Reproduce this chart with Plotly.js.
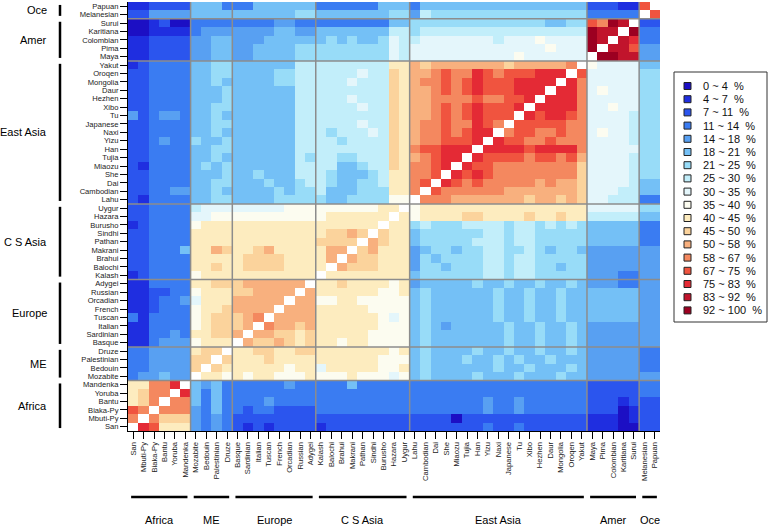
<!DOCTYPE html>
<html>
<head>
<meta charset="utf-8">
<script src="https://cdn.plot.ly/plotly-3.0.1.min.js"></script>
<style>html,body{margin:0;padding:0;background:#fff;}#chart{width:771px;height:529px;}</style>
</head>
<body>
<div id="chart"></div>
<script>
// ---------- categories ----------
const populations = ["San","Mbuti-Py","Biaka-Py","Bantu","Yoruba","Mandenka",
  "Mozabite","Bedouin","Palestinian","Druze",
  "Basque","Sardinian","Italian","Tuscan","French","Orcadian","Russian","Adygei",
  "Kalash","Balochi","Brahui","Makrani","Pathan","Sindhi","Burusho","Hazara","Uygur",
  "Lahu","Cambodian","Dai","She","Miaozu","Tujia","Han","Yizu","Naxi","Japanese","Tu","Xibo","Hezhen","Daur","Mongolia","Oroqen","Yakut",
  "Maya","Pima","Colombian","Karitiana","Surui",
  "Melanesian","Papuan"];
const groupNames = ["Africa","ME","Europe","C S Asia","East Asia","Amer","Oce"];
const groupSizes = [6,4,8,9,17,5,2];

// ---------- legend bins ----------
const binEdges = [0,4,7,11,14,18,21,25,30,35,40,45,50,58,67,75,83,92,100];
const binLabels = ["0 ~ 4","4 ~ 7","7 ~ 11","11 ~ 14","14 ~ 18","18 ~ 21","21 ~ 25","25 ~ 30","30 ~ 35",
  "35 ~ 40","40 ~ 45","45 ~ 50","50 ~ 58","58 ~ 67","67 ~ 75","75 ~ 83","83 ~ 92","92 ~ 100"];
const binColors = ["#1c0fc4","#1f2ee0","#2b55ee","#3a7cf2","#58a0f2","#74c0f6","#98dcf8","#c2eefa","#e4f6fb",
  "#fcfcf0","#fdecbf","#fbd39c","#f8b07e","#f4885f","#f0543f","#e42a35","#c1142c","#9c0021"];

// ---------- values (% shared, one row per population; columns in the same order) ----------
const n = null;
//                  Africa               | ME           | Europe                   | C S Asia                     | East Asia                                          | Amer          | Oce
const San        = [n,79,71,42,42,42,  16,12,16,12,  9,5,9,5,9,9,9,9,  5,9,9,9,9,9,9,9,9,  9,9,9,9,9,9,9,12,9,9,12,9,9,9,9,9,9,  5,5,5,2,2,  9,9];
const Mbuti_Py   = [62,n,62,47,47,47,  16,12,16,12,  9,9,9,9,9,9,9,9,  9,9,9,9,9,9,9,9,9,  9,9,9,9,2,9,9,9,9,9,9,9,9,9,9,9,9,  5,5,5,2,5,  9,9];
const Biaka_Py   = [71,62,n,62,62,62,  16,12,19,12,  12,9,12,12,9,9,9,9,  12,12,12,12,12,12,12,12,12,  12,12,12,12,12,12,12,16,12,12,16,12,12,12,12,12,12,  9,9,9,2,5,  9,9];
const Bantu      = [42,47,62,n,62,62,  19,12,19,12,  12,12,12,16,12,12,12,12,  12,12,12,12,12,12,12,12,12,  12,12,12,12,12,12,12,16,12,12,16,12,12,12,12,12,12,  9,9,9,5,9,  9,9];
const Yoruba     = [42,47,62,62,n,79,  19,12,19,12,  12,12,12,12,12,12,12,12,  12,12,12,12,12,12,12,12,12,  12,12,12,12,12,12,12,12,12,12,12,12,12,12,12,12,12,  9,9,9,9,9,  12,12];
const Mandenka   = [42,42,62,62,79,n,  19,16,19,12,  12,12,12,12,12,16,12,12,  12,12,12,19,12,12,12,12,12,  12,12,12,12,12,12,12,12,12,12,12,12,12,12,12,12,12,  9,9,9,9,9,  12,12];
const Mozabite   = [12,16,16,19,16,16,  n,42,42,37,  42,37,42,42,37,37,37,42,  37,37,37,42,37,37,37,32,37,  19,23,19,19,19,19,23,19,19,19,23,19,19,19,23,19,19,  16,16,16,16,16,  16,16];
const Bedouin    = [12,12,16,16,16,16,  47,n,47,42,  42,42,42,42,42,37,42,42,  32,42,42,42,42,42,37,37,42,  19,23,19,19,19,19,19,19,23,19,19,23,19,19,19,23,19,  16,16,16,16,16,  12,12];
const Palestinian= [12,12,16,16,16,16,  47,47,n,47,  42,42,42,47,42,42,42,42,  42,42,42,42,42,42,37,37,37,  19,23,19,19,19,23,19,19,23,19,23,19,19,23,19,19,19,  16,16,16,16,16,  12,12];
const Druze      = [12,12,16,16,16,16,  42,47,47,n,  42,42,47,47,42,42,47,47,  42,42,42,42,42,42,42,37,42,  19,23,19,19,19,19,23,19,19,23,19,19,23,19,19,23,19,  16,16,16,16,16,  12,12];
const Basque     = [5,5,12,16,16,16,  37,42,42,42,  n,54,47,47,54,47,42,47,  42,42,37,42,42,37,37,37,37,  19,23,19,19,19,19,19,19,19,23,19,19,23,19,19,23,19,  16,16,16,16,16,  16,16];
const Sardinian  = [5,5,12,12,16,12,  42,42,47,47,  54,n,54,54,47,47,42,47,  42,42,42,42,42,37,37,37,37,  19,23,19,19,19,19,19,19,19,23,19,19,23,19,19,23,19,  16,16,16,16,16,  16,16];
const Italian    = [5,5,12,12,12,12,  37,42,47,47,  47,54,n,62,54,54,47,54,  42,42,42,42,42,42,37,37,37,  19,23,19,16,19,19,19,19,19,23,19,19,23,19,19,23,19,  16,16,16,16,16,  16,16];
const Tuscan     = [12,5,12,12,12,12,  37,42,47,47,  47,54,62,n,54,54,54,54,  42,42,42,42,42,42,37,32,37,  19,23,19,19,19,19,19,19,23,19,19,23,19,19,23,19,19,  19,19,19,19,19,  16,16];
const French     = [5,5,9,12,12,12,  37,42,42,47,  54,54,54,54,n,54,54,54,  42,42,42,42,42,37,37,37,37,  19,23,19,19,19,19,19,19,23,19,19,23,19,19,23,19,19,  19,19,19,19,19,  16,16];
const Orcadian   = [5,5,9,12,12,16,  32,42,42,42,  54,54,54,54,54,n,54,54,  37,37,42,42,37,37,37,37,37,  19,23,19,19,19,19,19,19,23,19,19,23,19,19,23,19,19,  19,19,19,19,19,  16,16];
const Russian    = [5,5,9,9,12,12,  37,42,42,42,  47,47,54,54,54,54,n,54,  42,42,42,42,42,42,37,37,42,  19,23,19,19,19,19,19,19,23,19,19,23,19,19,23,19,19,  19,19,19,19,19,  16,16];
const Adygei     = [5,5,12,12,12,12,  42,42,47,47,  47,54,54,54,54,54,54,n,  42,42,47,42,42,42,42,37,42,  16,19,19,19,19,19,23,19,19,23,19,19,23,19,19,23,19,  16,16,16,12,12,  16,16];
const Kalash     = [5,9,12,12,12,12,  37,42,42,42,  42,42,42,42,42,42,42,42,  n,42,42,42,42,42,42,42,42,  19,23,23,23,23,23,23,27,27,23,27,27,23,23,23,23,23,  16,16,16,12,12,  16,16];
const Balochi    = [9,9,12,12,12,12,  42,42,47,42,  42,47,47,47,47,42,42,42,  42,n,54,47,47,47,42,42,42,  16,23,23,19,23,23,23,27,27,23,27,27,23,23,19,23,23,  16,16,16,16,16,  16,16];
const Brahui     = [9,9,12,12,12,12,  42,42,42,42,  42,47,47,47,47,42,42,42,  42,54,n,54,47,47,42,42,42,  16,23,19,23,23,23,23,27,27,23,27,27,23,23,23,23,23,  16,16,16,16,16,  16,16];
const Makrani    = [9,9,12,12,12,19,  42,42,54,47,  42,42,47,54,42,42,42,42,  42,54,54,n,47,54,42,42,42,  16,19,23,23,19,23,23,27,27,23,23,27,23,19,23,23,19,  16,16,16,16,16,  16,16];
const Pathan     = [9,9,12,12,12,12,  42,42,42,42,  42,42,42,42,42,42,42,42,  47,47,47,47,n,54,47,42,42,  19,23,23,23,23,23,27,27,27,23,27,27,23,23,23,23,23,  19,19,19,19,19,  12,12];
const Sindhi     = [9,9,12,12,12,12,  42,42,42,42,  42,42,42,42,42,42,42,42,  42,47,47,54,47,n,47,42,42,  19,23,23,23,23,23,23,27,27,23,27,27,23,23,23,23,23,  19,19,19,19,19,  12,12];
const Burusho    = [5,9,12,12,12,12,  37,42,42,42,  42,42,42,42,42,42,42,42,  42,42,42,42,42,42,n,42,42,  23,27,23,23,23,27,27,27,27,23,27,27,23,27,23,27,23,  19,19,19,19,19,  12,12];
const Hazara     = [9,9,12,12,12,12,  32,32,37,37,  37,37,37,37,37,37,37,37,  37,42,42,42,42,42,42,n,42,  37,42,42,42,42,47,47,42,42,42,42,47,42,42,47,42,42,  27,27,27,27,27,  19,19];
const Uygur      = [9,9,12,12,12,12,  27,32,32,32,  32,32,32,32,32,37,37,37,  37,37,37,37,37,37,42,42,n,  37,42,42,42,42,42,42,42,42,42,42,42,42,42,42,42,42,  32,32,32,32,32,  23,23];
const Lahu       = [9,5,12,12,12,12,  19,19,23,23,  19,19,19,19,23,23,23,23,  23,19,19,23,23,23,23,37,37,  n,62,62,62,54,54,54,54,54,54,54,47,54,54,47,54,47,  32,32,27,27,27,  12,12];
const Cambodian  = [9,9,12,12,16,16,  19,19,23,19,  19,19,19,19,23,19,23,23,  27,19,19,19,23,23,23,42,42,  62,n,71,62,62,62,62,62,62,54,54,54,54,54,54,54,47,  32,32,32,27,27,  19,19];
const Dai        = [9,9,12,12,12,12,  19,19,23,23,  19,19,19,23,19,19,23,27,  27,23,19,19,23,23,27,42,42,  62,71,n,79,71,62,71,62,62,62,62,62,54,62,54,54,47,  32,32,32,32,27,  19,19];
const She        = [9,9,12,12,12,12,  19,19,19,23,  19,19,23,19,19,19,27,27,  27,23,19,19,19,23,27,42,42,  62,62,71,n,79,71,79,71,62,62,62,62,62,62,62,62,47,  32,32,32,32,27,  23,23];
const Miaozu     = [9,5,12,12,12,12,  19,23,19,23,  19,19,19,19,19,19,27,27,  27,27,19,19,23,27,27,47,42,  62,62,71,79,n,79,71,71,62,62,62,62,62,62,62,62,47,  32,32,32,32,27,  23,23];
const Tujia      = [9,9,12,12,12,12,  19,19,23,19,  19,19,19,19,19,19,27,23,  27,27,23,23,27,27,27,47,42,  54,62,71,79,79,n,79,71,71,71,71,62,71,71,62,71,54,  32,32,32,32,27,  23,23];
const Han        = [9,9,12,12,12,12,  19,19,23,23,  19,19,19,19,19,19,27,27,  27,27,27,27,27,27,27,47,42,  62,71,71,79,79,79,n,79,79,79,79,71,79,79,79,79,62,  32,32,32,32,32,  23,23];
const Yizu       = [9,9,12,16,12,12,  23,19,19,23,  19,19,19,19,19,19,27,27,  27,27,23,27,27,27,27,47,42,  54,62,62,71,71,71,79,n,79,71,71,62,62,71,62,62,62,  32,32,32,32,27,  23,23];
const Naxi       = [9,9,12,12,12,12,  19,19,23,19,  19,19,19,19,19,19,27,27,  27,23,27,27,27,32,27,47,42,  54,62,62,71,62,71,79,79,n,62,71,71,62,62,71,62,62,  32,37,32,32,27,  23,23];
const Japanese   = [9,9,12,12,12,12,  19,19,23,23,  19,19,19,19,19,19,27,27,  27,27,27,27,32,27,27,47,42,  54,62,62,71,62,62,79,71,62,n,71,71,71,71,71,62,62,  32,32,32,32,27,  23,23];
const Tu         = [16,9,12,16,16,12,  19,19,23,19,  19,19,19,19,19,19,27,27,  27,27,27,27,27,27,27,47,42,  54,54,62,71,62,71,79,71,71,71,n,79,71,79,79,71,62,  32,32,32,32,27,  23,23];
const Xibo       = [9,9,12,12,12,12,  19,19,23,23,  19,19,19,19,19,19,27,27,  27,27,27,27,32,27,27,47,42,  54,54,62,71,62,71,79,71,71,71,79,n,79,79,79,79,62,  32,32,37,32,32,  23,23];
const Hezhen     = [9,9,12,12,12,12,  19,19,19,23,  19,19,19,19,19,19,27,27,  27,27,27,32,27,27,27,47,42,  54,54,62,62,62,62,71,62,62,71,71,79,n,79,79,79,62,  32,32,32,32,32,  23,23];
const Daur       = [9,9,12,12,12,12,  19,19,19,23,  19,19,19,19,19,19,27,27,  27,27,27,27,27,27,27,47,42,  54,54,62,71,62,71,79,71,71,71,79,79,79,n,79,79,62,  32,37,32,32,32,  23,23];
const Mongolia   = [9,9,12,12,12,12,  19,19,23,19,  19,19,19,19,23,23,27,27,  27,27,27,32,27,27,27,47,42,  54,62,62,71,62,71,79,71,71,71,79,79,79,79,n,79,62,  32,32,32,32,32,  23,23];
const Oroqen     = [9,9,12,12,12,12,  19,19,23,23,  19,19,19,19,23,23,27,27,  27,27,27,27,32,27,27,47,42,  54,54,62,71,62,62,79,71,62,71,71,71,79,79,79,n,71,  32,32,32,32,32,  23,23];
const Yakut      = [5,9,12,12,12,12,  19,19,23,23,  19,19,19,19,19,19,27,27,  27,27,27,27,27,27,27,42,42,  54,47,54,54,54,54,54,54,54,47,54,54,54,54,54,62,n,  37,32,32,32,32,  19,19];
const Maya       = [5,5,9,9,9,9,  16,16,19,19,  16,16,19,19,19,19,23,23,  23,23,23,23,23,23,23,32,27,  32,32,32,32,32,32,32,32,32,32,37,32,32,32,32,32,32,  n,96,96,87,87,  16,16];
const Pima       = [5,5,9,9,9,9,  16,16,19,19,  16,16,19,19,19,19,23,23,  23,23,23,23,23,23,23,32,27,  32,32,32,32,32,32,32,32,32,32,32,32,32,37,32,32,32,  96,n,87,87,71,  16,16];
const Colombian  = [5,5,9,9,9,9,  16,16,19,19,  16,16,16,19,19,19,19,19,  19,23,19,23,19,19,23,32,27,  27,32,32,32,32,32,32,32,27,32,32,32,37,32,32,32,32,  96,87,n,87,79,  12,12];
const Karitiana  = [2,2,5,5,5,5,  12,16,16,16,  16,16,16,16,19,19,16,16,  19,19,19,19,19,19,19,27,27,  23,27,27,27,27,27,27,27,27,27,27,27,27,27,27,27,27,  96,87,87,n,96,  12,12];
const Surui      = [2,2,5,9,2,2,  12,12,12,12,  12,12,12,12,16,16,12,12,  12,12,12,12,12,12,12,19,19,  23,23,23,23,23,23,23,23,23,23,23,23,23,19,19,23,23,  71,62,96,87,n,  9,9];
const Melanesian = [9,9,16,16,16,16,  19,19,19,19,  19,19,19,19,19,19,23,23,  19,19,19,19,19,19,19,23,23,  16,27,23,23,23,23,23,23,23,23,23,23,23,23,23,23,23,  12,12,12,12,12,  n,71];
const Papuan     = [5,5,9,9,9,9,  19,19,19,12,  12,12,19,19,19,19,19,19,  12,12,12,12,12,12,19,19,19,  12,19,19,19,19,19,19,19,19,19,19,19,19,19,19,19,19,  9,9,9,5,5,  71,n];

const rows = [San,Mbuti_Py,Biaka_Py,Bantu,Yoruba,Mandenka,Mozabite,Bedouin,Palestinian,Druze,
  Basque,Sardinian,Italian,Tuscan,French,Orcadian,Russian,Adygei,
  Kalash,Balochi,Brahui,Makrani,Pathan,Sindhi,Burusho,Hazara,Uygur,
  Lahu,Cambodian,Dai,She,Miaozu,Tujia,Han,Yizu,Naxi,Japanese,Tu,Xibo,Hezhen,Daur,Mongolia,Oroqen,Yakut,
  Maya,Pima,Colombian,Karitiana,Surui,Melanesian,Papuan];

// ---------- geometry (pixels) ----------
const W = 771, H = 529;
const M = {l:128, r:111, t:2, b:98};
const PW = W - M.l - M.r, PH = H - M.t - M.b;
const px = x => (x - M.l) / PW;
const py = y => (H - M.b - y) / PH;

// stepped colour scale from the bins
const colorscale = [];
binColors.forEach((c,k) => {
  colorscale.push([binEdges[k]/100, c]);
  colorscale.push([binEdges[k+1]/100, c]);
});

const trace = {
  type:'heatmap', x: populations, y: populations, z: rows,
  zmin:0, zmax:100, colorscale: colorscale, showscale:false, hoverinfo:'skip'
};

const shapes = [], annotations = [];
const FONT = "Liberation Sans, Arial, sans-serif";

let start = 0;
groupSizes.forEach((s,g) => {
  const end = start + s - 1;
  if (g < groupSizes.length - 1) {
    const b = end + 0.5;
    shapes.push({type:'line', xref:'x', yref:'paper', x0:b, x1:b, y0:0, y1:1, line:{color:'#8c8c8c', width:1.5}});
    shapes.push({type:'line', xref:'paper', yref:'y', x0:0, x1:1, y0:b, y1:b, line:{color:'#8c8c8c', width:1.5}});
  }
  shapes.push({type:'line', xref:'paper', yref:'y', x0:px(60), x1:px(60), y0:start-0.15, y1:end+0.15, line:{color:'#000', width:2.5}});
  annotations.push({xref:'paper', yref:'y', x:px(49), y:(start+end)/2, text:groupNames[g], showarrow:false,
    xanchor:'right', yanchor:'middle', font:{family:FONT, size:11, color:'#000'}});
  shapes.push({type:'line', xref:'x', yref:'paper', x0:start-0.2, x1:end+0.2, y0:py(497), y1:py(497), line:{color:'#000', width:2.5}});
  annotations.push({xref:'x', yref:'paper', x:(start+end)/2, y:py(520), text:groupNames[g], showarrow:false,
    xanchor:'center', yanchor:'middle', font:{family:FONT, size:11, color:'#000'}});
  start += s;
});

// legend box
shapes.push({type:'rect', xref:'paper', yref:'paper', x0:px(674), x1:px(767), y0:py(72), y1:py(322),
  line:{color:'#333', width:1}, fillcolor:'#fff'});
binLabels.forEach((lab,k) => {
  const yc = 86 + 13.2*k;
  shapes.push({type:'rect', xref:'paper', yref:'paper', x0:px(684), x1:px(691), y0:py(yc+3.5), y1:py(yc-3.5),
    line:{color:'#222', width:1}, fillcolor:binColors[k]});
  annotations.push({xref:'paper', yref:'paper', x:px(701), y:py(yc), text:lab + '\u00a0\u00a0%', showarrow:false,
    xanchor:'left', yanchor:'middle', font:{family:FONT, size:11, color:'#111'}});
});

const axisCommon = {type:'category', showgrid:false, zeroline:false, ticks:'outside', ticklen:7,
  tickcolor:'#000', tickwidth:1, showline:true, linecolor:'#000', linewidth:1,
  tickmode:'array', tickvals:populations, ticktext:populations,
  tickfont:{family:FONT, size:7.6, color:'#222'}, range:[-0.5,50.5], fixedrange:true};

const layout = {
  width:W, height:H, margin:M, paper_bgcolor:'#fff', plot_bgcolor:'#fff',
  xaxis: Object.assign({}, axisCommon, {tickangle:-90}),
  yaxis: Object.assign({}, axisCommon),
  shapes: shapes, annotations: annotations, showlegend:false
};

Plotly.newPlot('chart', [trace], layout, {staticPlot:true, displayModeBar:false});
</script>
</body>
</html>
